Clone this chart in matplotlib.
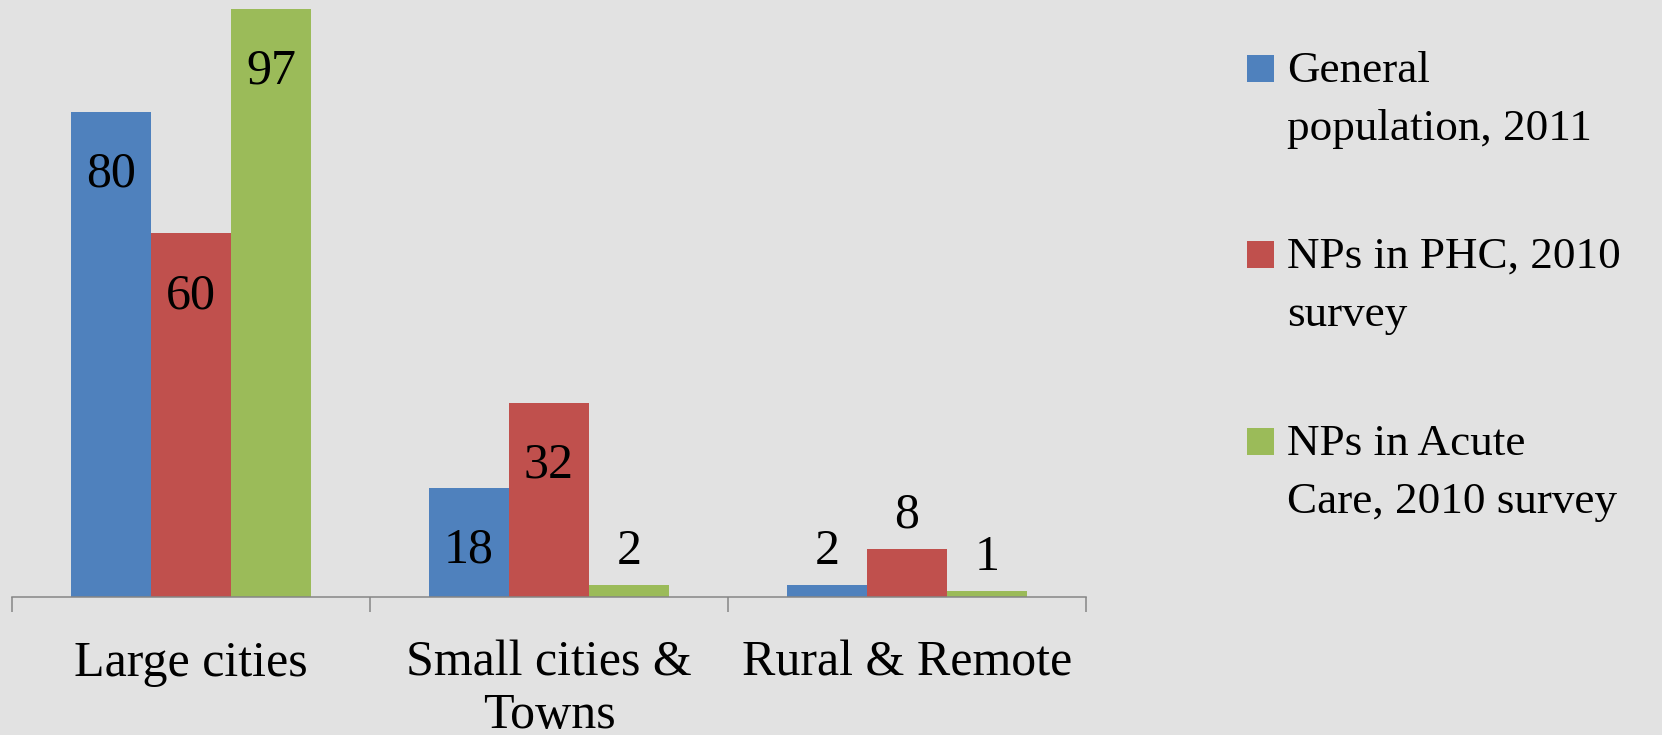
import matplotlib
matplotlib.use("Agg")
import matplotlib.pyplot as plt
from matplotlib.patches import Rectangle

categories = ["Large cities", "Small cities &\nTowns", "Rural & Remote"]
series_names = [["General", "population, 2011"],
                ["NPs in PHC, 2010", "survey"],
                ["NPs in Acute", "Care, 2010 survey"]]
general_pop = [80, 18, 2]
nps_phc = [60, 32, 8]
nps_acute = [97, 2, 1]
colors = ["#4F81BD", "#C0504D", "#9BBB59"]

W, H = 1662, 735
fig = plt.figure(figsize=(W / 100, H / 100), dpi=100)
bg = "#e2e2e2"
fig.patch.set_facecolor(bg)

ax_left, ax_right, ax_bottom_px = 12, 1086, 597
ax = fig.add_axes([ax_left / W, (H - ax_bottom_px) / H,
                   (ax_right - ax_left) / W, ax_bottom_px / H])
ax.set_facecolor("none")

font = "Liberation Serif"
bar_w = 80 / 358
series = [general_pop, nps_phc, nps_acute]
xs = range(len(categories))
for i, (vals, col) in enumerate(zip(series, colors)):
    offs = (i - 1) * bar_w
    for x, v in zip(xs, vals):
        ax.bar(x + offs, v, width=bar_w, color=col, zorder=2)
        if v >= 10:
            ax.annotate(str(v), (x + offs, v), xytext=(0, -45),
                        textcoords="offset points", ha="center", va="center",
                        fontsize=36, family=font, color="black", zorder=3)
        else:
            ax.annotate(str(v), (x + offs, v), xytext=(0, 24),
                        textcoords="offset points", ha="center", va="center",
                        fontsize=36, family=font, color="black", zorder=3)

ax.set_xlim(-0.5, len(categories) - 0.5)
ax.set_ylim(0, ax_bottom_px / 6.06)
for s in ["left", "right", "top"]:
    ax.spines[s].set_visible(False)
ax.spines["bottom"].set_color("#868686")
ax.spines["bottom"].set_linewidth(1.1)
ax.spines["bottom"].set_zorder(4)
ax.set_yticks([])
ax.set_xticks([-0.5, 0.5, 1.5, 2.5])
ax.set_xticklabels([])
ax.tick_params(axis="x", which="major", length=10.5, width=1.1,
               color="#868686", direction="out")
ax.set_xticks(list(xs), minor=True)
ax.set_xticklabels(categories, minor=True, fontsize=36, family=font,
                   linespacing=1.18)
ax.tick_params(axis="x", which="minor", length=0, pad=31)

# legend
entry_baselines = [82, 268, 455]
for names, col, yb in zip(series_names, colors, entry_baselines):
    fig.patches.append(Rectangle((1247 / W, (H - yb) / H), 27 / W, 27 / H,
                                 transform=fig.transFigure, facecolor=col,
                                 edgecolor="none"))
    for j, line in enumerate(names):
        fig.text(1287 / W, (H - yb - j * 58) / H, line, fontsize=32.5,
                 family=font, va="baseline", ha="left", color="black")

fig.savefig("out.png", dpi=100, facecolor=bg)
